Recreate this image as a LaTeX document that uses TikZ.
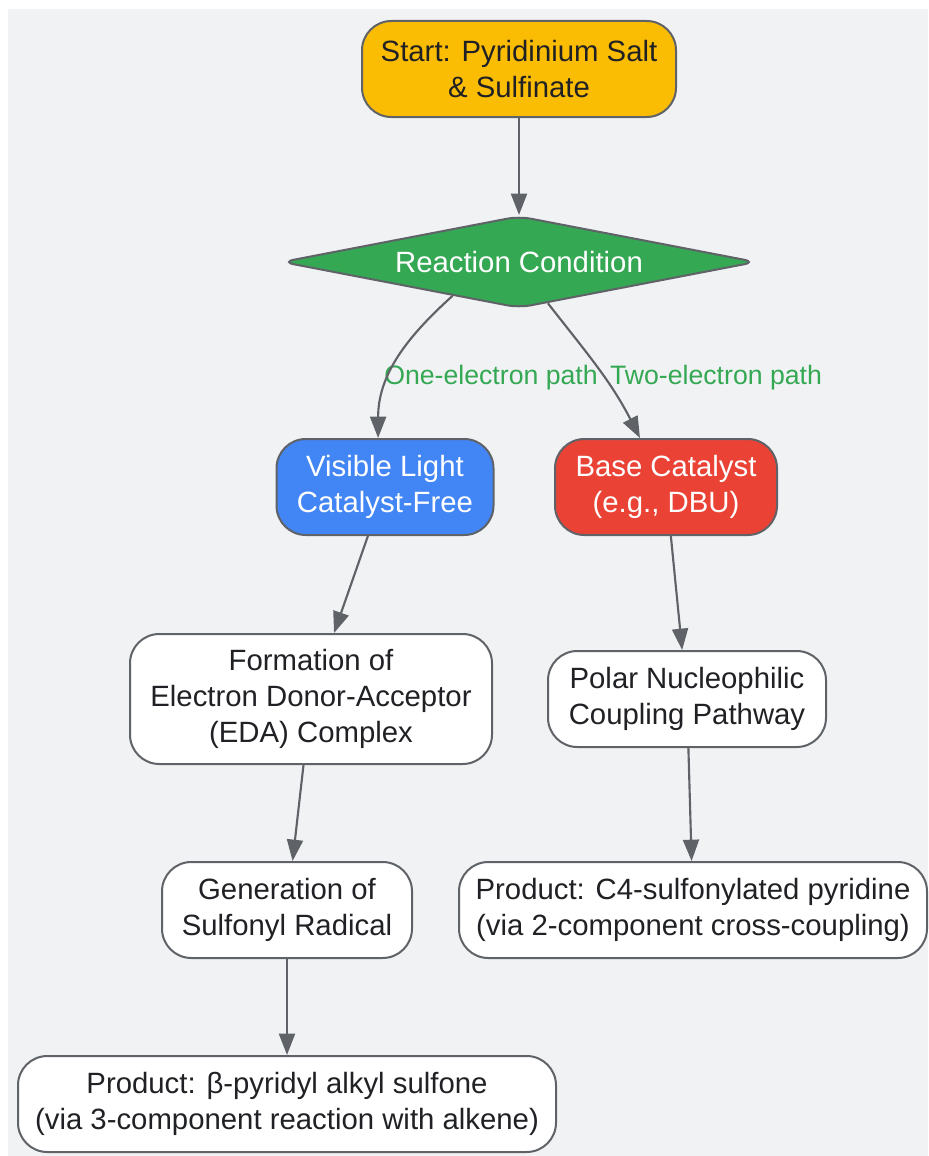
\documentclass[tikz,border=0pt]{standalone}
\usepackage{fontspec}
\setmainfont{Liberation Sans}
\usetikzlibrary{shapes.geometric,arrows.meta}
\definecolor{bgcol}{HTML}{F1F2F4}
\definecolor{linecol}{HTML}{5F6368}
\definecolor{txtcol}{HTML}{202124}
\definecolor{startcol}{HTML}{FBBC04}
\definecolor{greencol}{HTML}{34A853}
\definecolor{bluecol}{HTML}{4285F4}
\definecolor{redcol}{HTML}{EA4335}
\begin{document}
\begin{tikzpicture}[x=0.75pt, y=-0.75pt,
    every node/.style={draw=linecol, line width=1.5pt, rounded corners=22pt, align=center, inner sep=0pt,
      fill=white, text=txtcol, font=\fontsize{22}{27}\selectfont},
    lbl/.style={draw=none, fill=none, text=greencol, font=\fontsize{20}{24}\selectfont},
    every edge/.style={draw=linecol, line width=1.6pt, -{Triangle[length=16pt, width=12pt]}}]
      \useasboundingbox (0,0) rectangle (928,1156);
      \fill[bgcol] (8,9) rectangle (928,1156);
      \node (1) at (519,69) [fill=startcol, minimum width=235.5pt, minimum height=72pt] {Start: Pyridinium Salt\\\& Sulfinate};
      \node (2) at (519,262) [shape=diamond, aspect=5.2, rounded corners=9pt, fill=greencol, text=white, minimum width=356pt, minimum height=69pt] {Reaction Condition};
      \node (3) at (385,487) [fill=bluecol, text=white, minimum width=162.75pt, minimum height=72pt] {Visible Light\\Catalyst-Free};
      \node (4) at (666,487) [fill=redcol, text=white, minimum width=166.5pt, minimum height=72pt] {Base Catalyst\\(e.g., DBU)};
      \node (5) at (311,699) [minimum width=271.5pt, minimum height=97.5pt] {Formation of\\Electron Donor-Acceptor\\(EDA) Complex};
      \node (6) at (687,699) [minimum width=208.5pt, minimum height=72pt] {Polar Nucleophilic\\Coupling Pathway};
      \node (7) at (287,910) [minimum width=187.5pt, minimum height=72pt] {Generation of\\Sulfonyl Radical};
      \node (8) at (693,910) [minimum width=351pt, minimum height=72pt] {Product: C4-sulfonylated pyridine\\(via 2-component cross-coupling)};
      \node (9) at (287,1104) [minimum width=403.5pt, minimum height=72pt] {Product: β-pyridyl alkyl sulfone\\(via 3-component reaction with alkene)};
      \node (l1) at (491,378) [lbl] {One-electron path};
      \node (l2) at (716,378) [lbl] {Two-electron path};
      \foreach \source/\dest in {1/2, 3/5, 4/6, 5/7, 6/8, 7/9}
        \path (\source) edge (\dest);
      \path (2.207) edge[out=222, in=90] (3.98);
      \path (2.305) edge[out=-52, in=117] (4.118);
    \end{tikzpicture}
\end{document}
